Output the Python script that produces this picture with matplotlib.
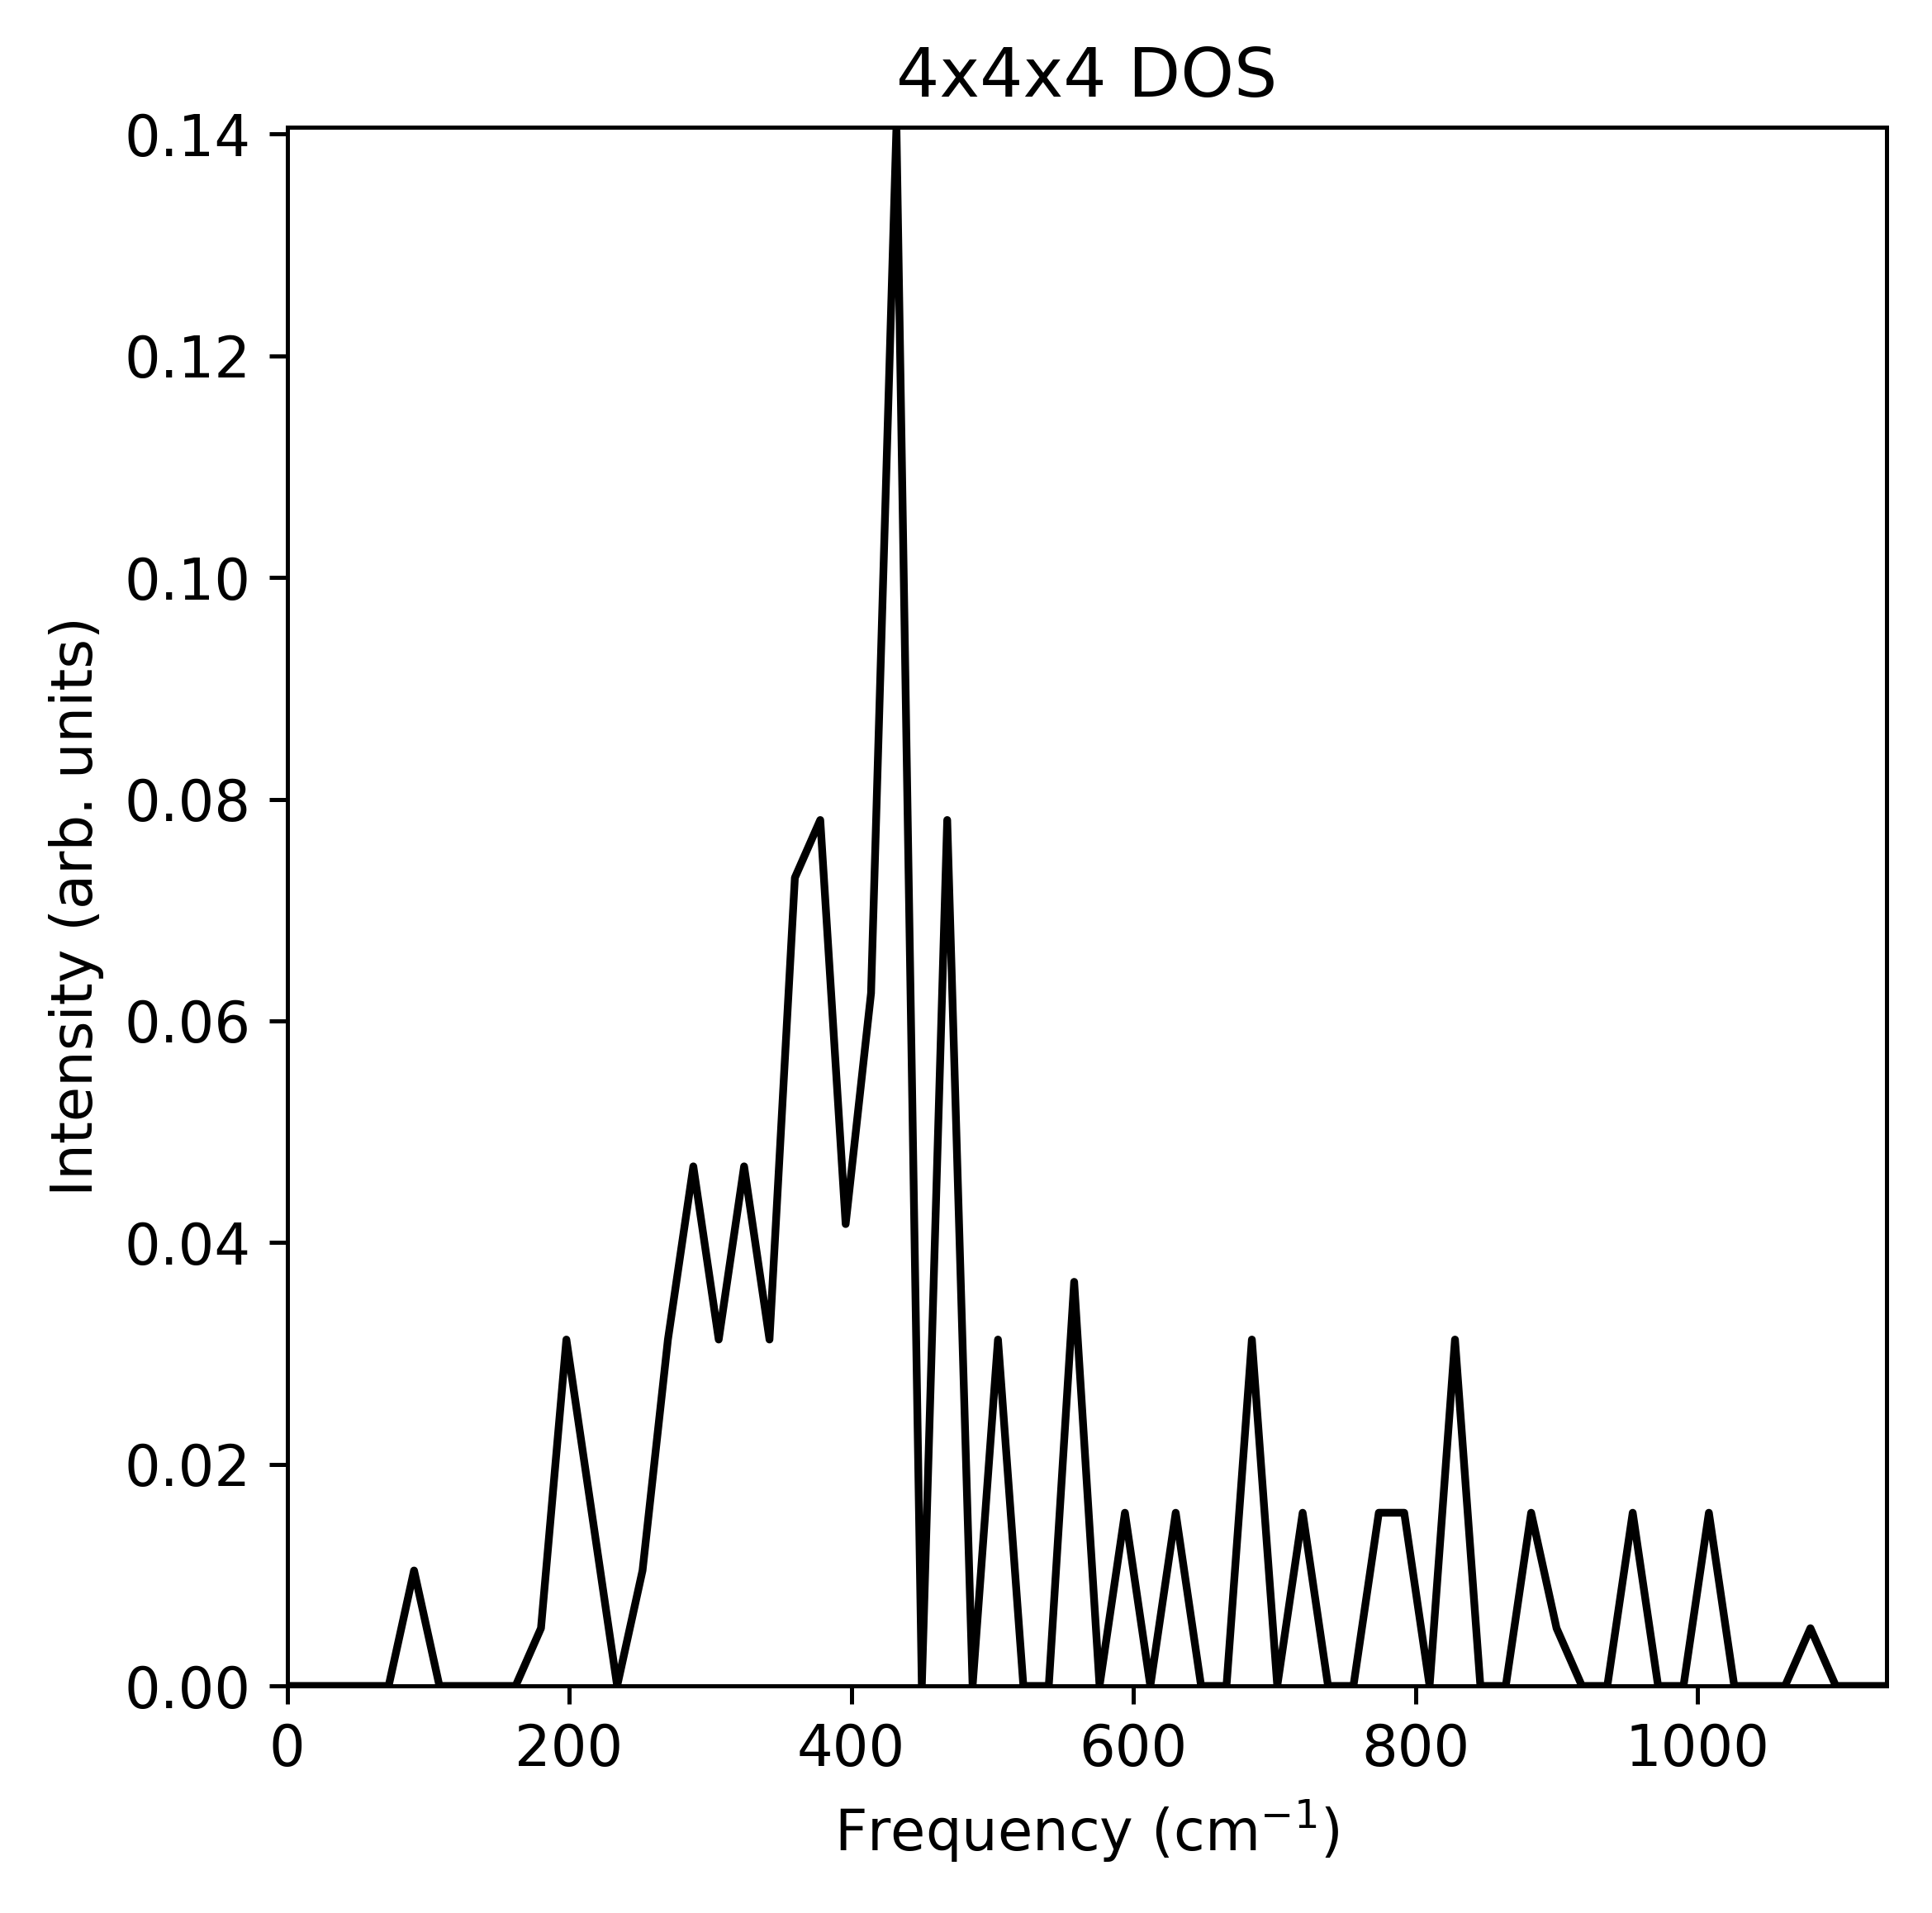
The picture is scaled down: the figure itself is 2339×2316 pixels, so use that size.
import numpy as np
import matplotlib
matplotlib.use("Agg")
import matplotlib.pyplot as plt

# frequency grid (cm^-1), bin width 18
freq_step = 18
n_bins = 64
freqs = np.arange(n_bins) * freq_step

# mode counts per bin, 4x4x4 q-mesh -> 64 q-points x 3 modes = 192
n_modes = 192
counts = [0, 0, 0, 0, 0, 2, 0, 0, 0, 0,
          1, 6, 3, 0, 2, 6, 9, 6, 9, 6,
          14, 15, 8, 12, 27, 0, 15, 0, 6, 0,
          0, 7, 0, 3, 0, 3, 0, 0, 6, 0,
          3, 0, 0, 3, 3, 0, 6, 0, 0, 3,
          1, 0, 0, 3, 0, 0, 3, 0, 0, 0,
          1, 0, 0, 0]
dos = np.array(counts) / n_modes

plt.rcParams['font.size'] = 11

fig = plt.figure(figsize=(2339 / 450, 2316 / 450), dpi=450)
ax = fig.add_axes([0.1486, 0.1187, 0.9765 - 0.1486, 0.9335 - 0.1187])

ax.plot(freqs, dos, color='black', linewidth=1.5)
ax.set_xlim(0, freqs.max())
ax.set_ylim(0, dos.max())
ax.set_xlabel('Frequency (cm$^{-1}$)')
ax.set_ylabel('Intensity (arb. units)')
ax.set_title('4x4x4 DOS')

fig.savefig('out.png', dpi=450)
